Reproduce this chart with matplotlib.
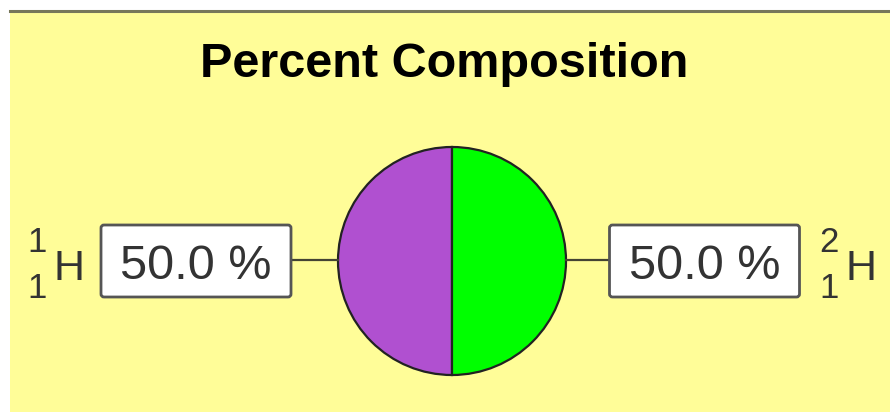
import matplotlib
matplotlib.use("Agg")
import matplotlib.pyplot as plt
from matplotlib.patches import Rectangle, FancyBboxPatch

plt.rcParams['font.family'] = ['Liberation Sans', 'DejaVu Sans']

# data
title = "Percent Composition"
symbols = ["H", "H"]
mass_numbers = ["1", "2"]
atomic_numbers = ["1", "1"]
values = [50.0, 50.0]
colors = ["#B050D0", "#00FF00"]

W, H = 890, 412
fig = plt.figure(figsize=(W / 100, H / 100), dpi=100)
fig.patch.set_facecolor("white")
ax = fig.add_axes([0, 0, 1, 1])

# panel background with dark top rule
ax.add_patch(Rectangle((10, 10), W - 10, H - 10, facecolor="#FFFD98", edgecolor="none", zorder=0))
ax.plot([10, W], [10.5, 10.5], color="#77775a", lw=2.2, zorder=1)

ax.text(444, 77, title, ha="center", va="baseline", fontsize=35,
        fontweight="bold", color="black")

# pie
cx, cy, r = 452, 261, 114
ax.pie(values, colors=colors, startangle=90, counterclock=True,
       center=(cx, cy), radius=r, frame=True,
       wedgeprops=dict(edgecolor="#222222", linewidth=1.6))
ax.set_xlim(0, W)
ax.set_ylim(H, 0)
ax.set_aspect("equal")
ax.axis("off")

total = sum(values)
box_cx = [196, 704.5]
box_w, box_h = 190, 72
for i, v in enumerate(values):
    bx = box_cx[i]
    # connector line to the pie
    if i == 0:
        ax.plot([bx + box_w / 2, cx - r], [cy - 1, cy - 1], color="#444433", lw=1.6, zorder=1)
    else:
        ax.plot([cx + r, bx - box_w / 2], [cy - 1, cy - 1], color="#444433", lw=1.6, zorder=1)
    ax.add_patch(FancyBboxPatch((bx - box_w / 2, cy - box_h / 2), box_w, box_h,
                                boxstyle="round,pad=0,rounding_size=3",
                                facecolor="white", edgecolor="#555555", lw=2, zorder=3))
    ax.text(bx, cy + 18, f"{100 * v / total:.1f} %", ha="center", va="baseline",
            fontsize=35, color="#333333", zorder=4)

# isotope labels
sym_x = [69, 861]
for i in range(len(symbols)):
    sx = sym_x[i]
    ax.text(sx, cy + 19, symbols[i], ha="center", va="baseline", fontsize=31, color="#333333")
    ax.text(sx - 32, cy - 9, mass_numbers[i], ha="center", va="baseline", fontsize=25, color="#333333")
    ax.text(sx - 32, cy + 37, atomic_numbers[i], ha="center", va="baseline", fontsize=25, color="#333333")

fig.savefig("out.png", dpi=100, facecolor=fig.get_facecolor())
